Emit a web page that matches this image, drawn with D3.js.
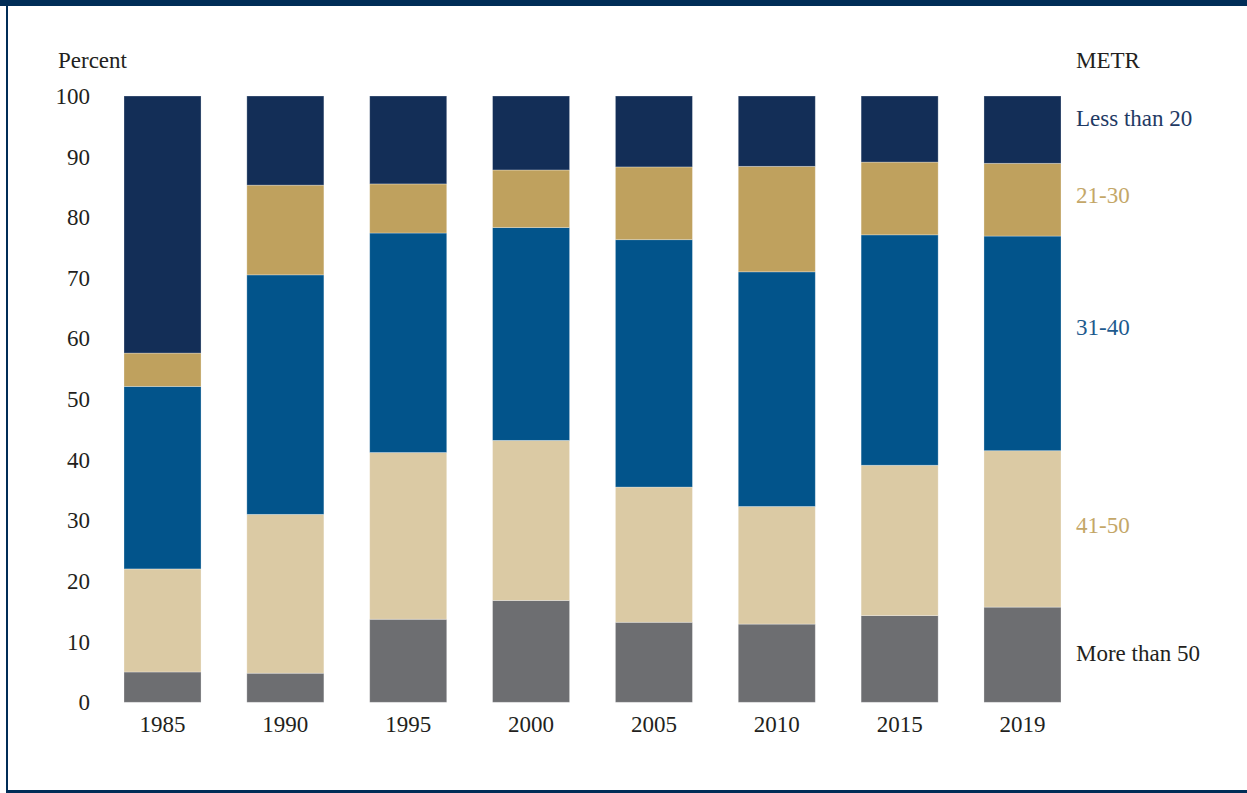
<!DOCTYPE html>
<html>
<head>
<meta charset="utf-8">
<script src="https://cdn.jsdelivr.net/npm/d3@7"></script>
<style>
  html, body { margin: 0; padding: 0; background: #fff; }
  svg text { font-family: "Liberation Serif", "DejaVu Serif", serif; }
</style>
</head>
<body>
<div class="chart"></div>
<script>
// data (percent of each year)
const years = ['1985', '1990', '1995', '2000', '2005', '2010', '2015', '2019']
const moreThan50 = [5.0, 4.8, 13.7, 16.8, 13.2, 12.9, 14.3, 15.7]
const from41to50 = [17.0, 26.2, 27.5, 26.4, 22.3, 19.4, 24.8, 25.8]
const from31to40 = [30.1, 39.5, 36.2, 35.1, 40.8, 38.7, 38.0, 35.4]
const from21to30 = [5.5, 14.8, 8.1, 9.5, 12.0, 17.4, 12.0, 12.0]
const lessThan20 = [42.4, 14.7, 14.5, 12.2, 11.7, 11.6, 10.9, 11.1]
const yTicks = [0, 10, 20, 30, 40, 50, 60, 70, 80, 90, 100]

// series from the bottom of the stack up
const keys = ['gt50', 'r41', 'r31', 'r21', 'lt20']
const labels = ['More than 50', '41-50', '31-40', '21-30', 'Less than 20']
const colors = ['#6d6e71', '#dbcaa4', '#02548b', '#bfa15e', '#132e57']
const labelColors = ['#231f20', '#c4a768', '#1d5a8e', '#c4a768', '#1f3a64']
const labelAt = [8.1, 29.3, 61.9, 83.7, 96.4]

const w = 1247
const h = 793
const fontSize = 23

const svg = d3.select('.chart').append('svg')
    .attr('width', w)
    .attr('height', h)

// frame
svg.append('rect').attr('x', 0).attr('y', 0).attr('width', w).attr('height', 6).attr('fill', '#002d57')
svg.append('rect').attr('x', 6).attr('y', 0).attr('width', 2).attr('height', h).attr('fill', '#002d57')
svg.append('rect').attr('x', 6).attr('y', 790).attr('width', w).attr('height', 3).attr('fill', '#002d57')

const table = years.map((yr, i) => ({
    year: yr,
    gt50: moreThan50[i],
    r41: from41to50[i],
    r31: from31to40[i],
    r21: from21to30[i],
    lt20: lessThan20[i]
}))

const stacked = d3.stack().keys(keys)(table)

const xScale = d3.scaleBand()
    .domain(years)
    .range([124, 1061])
    .paddingInner(0.373)
    .paddingOuter(0)

const yScale = d3.scaleLinear()
    .domain([0, 100])
    .range([702.3, 96])

svg.append('g')
    .selectAll('g')
    .data(stacked)
    .join('g')
    .attr('fill', (d, i) => colors[i])
    .selectAll('rect')
    .data(d => d)
    .join('rect')
    .attr('x', d => xScale(d.data.year))
    .attr('width', xScale.bandwidth())
    .attr('y', d => yScale(d[1]))
    .attr('height', d => yScale(d[0]) - yScale(d[1]))
    .attr('stroke', '#ffffff')
    .attr('stroke-opacity', 0.35)
    .attr('stroke-width', 0.8)

// y axis labels
const leftAxis = svg.append('g')
    .attr('transform', 'translate(90,0)')
    .call(d3.axisLeft(yScale).tickValues(yTicks).tickSize(0).tickPadding(0))
leftAxis.select('.domain').remove()
leftAxis.selectAll('text')
    .attr('font-size', fontSize)
    .attr('fill', '#231f20')
    .attr('font-family', '"Liberation Serif", serif')

// x axis labels
const bottomAxis = svg.append('g')
    .attr('transform', 'translate(0,716)')
    .call(d3.axisBottom(xScale).tickSize(0).tickPadding(0))
bottomAxis.select('.domain').remove()
bottomAxis.selectAll('text')
    .attr('font-size', fontSize)
    .attr('fill', '#231f20')
    .attr('font-family', '"Liberation Serif", serif')

// titles
svg.append('text')
    .attr('x', 58).attr('y', 68)
    .attr('font-size', fontSize)
    .attr('fill', '#231f20')
    .text('Percent')

svg.append('text')
    .attr('x', 1076).attr('y', 68)
    .attr('font-size', fontSize)
    .attr('fill', '#231f20')
    .text('METR')

// series labels at the right
svg.append('g')
    .selectAll('text')
    .data(labels)
    .join('text')
    .attr('x', 1076)
    .attr('y', (d, i) => yScale(labelAt[i]))
    .attr('dy', '0.35em')
    .attr('font-size', fontSize)
    .attr('fill', (d, i) => labelColors[i])
    .text(d => d)
</script>
</body>
</html>
